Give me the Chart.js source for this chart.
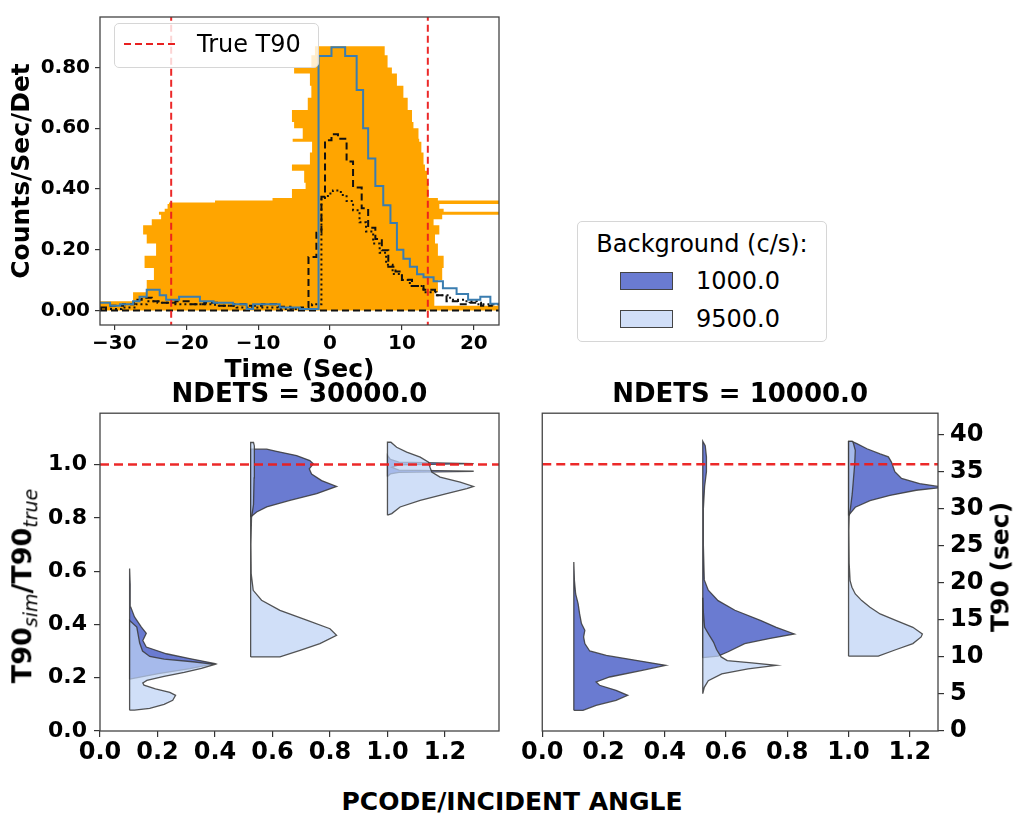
<!DOCTYPE html>
<html>
<head>
<meta charset="utf-8">
<script src="https://cdn.jsdelivr.net/npm/chart.js@4.4.1/dist/chart.umd.min.js"></script>
<style>
  body { margin: 0; background: #fff; font-family: "DejaVu Sans", sans-serif; color: #000; }
  #page { position: relative; width: 1015px; height: 819px; overflow: hidden; }
  .box { position: absolute; }
  .rot { position: absolute; transform: translate(-50%, -50%) rotate(-90deg); font-weight: bold; font-size: 25px; white-space: nowrap; }
  .rot sub { font-style: italic; font-weight: normal; font-size: 19px; }
  .xlab { position: absolute; transform: translate(-50%, -50%); font-weight: bold; font-size: 25px; white-space: nowrap; }
  .legend { position: absolute; border: 1px solid #d6d6d6; border-radius: 5px; background: rgba(255,255,255,0.8); }
  .legend .t { position: absolute; font-size: 24px; line-height: 30px; white-space: nowrap; }
</style>
</head>
<body>
<div id="page">
  <div class="box" style="left:0;top:0;width:510px;height:385px"><canvas id="lightCurve"></canvas></div>
  <div class="box" style="left:0;top:380px;width:520px;height:395px"><canvas id="violin30k"></canvas></div>
  <div class="box" style="left:520px;top:380px;width:495px;height:395px"><canvas id="violin10k"></canvas></div>

  <div class="rot" style="left:24px;top:586px;font-size:27px">T90<sub>sim</sub>/T90<sub>true</sub></div>
  <div class="rot" style="left:1000px;top:567px">T90 (sec)</div>
  <div class="xlab" style="left:512px;top:801px">PCODE/INCIDENT ANGLE</div>

  <div class="legend" style="left:114px;top:23px;width:203px;height:43px">
    <svg style="position:absolute;left:8px;top:18px" width="54" height="4">
      <line x1="1" y1="2" x2="53" y2="2" stroke="#e82020" stroke-width="2" stroke-dasharray="7,4"/>
    </svg>
    <div class="t" id="t90Label" style="left:82px;top:5px"></div>
  </div>
  <div class="legend" id="bgLegend" style="left:577px;top:221px;width:248px;height:119px;background:#fff"></div>
</div>

<script>
// ---------- top panel: light curve ----------
const timeTicks = [-30, -20, -10, 0, 10, 20];
const rateTicks = [0, 0.2, 0.4, 0.6, 0.8];
const t90Bounds = [-22.1, 13.6];

// orange band: level edges and the left/right end of the band on each level
const orangeLevels = [0, 0.015, 0.03, 0.06, 0.10, 0.14, 0.18, 0.22, 0.25, 0.28, 0.30, 0.315, 0.325, 0.335, 0.35, 0.355, 0.362, 0.37,
  0.40, 0.42, 0.46, 0.48, 0.52, 0.555, 0.565, 0.60, 0.62, 0.66, 0.70, 0.74, 0.78, 0.80, 0.84, 0.87];
const orangeLeft = [-32, -32, -27.4, -25.5, -24.5, -25.8, -24.2, -25.5, -26, -24.8, -23.5, -23.8, -23, -22.6, -22.4, -16, -8,
  -5.3, -3.4, -3.6, -5.3, -2.8, -2.5, -5.2, -3.8, -5.0, -5.3, -3.1, -2.6, -2.8, -5.0, -2.6, -2.1];
const orangeRight = [23.5, 14.5, 14.5, 15, 15.6, 15.8, 15, 14.6, 15.2, 14.4, 15.6, 23.5, 15.8, 15.2, 23.5, 23.5, 15,
  13.7, 13.7, 13.5, 13.2, 13, 12.7, 12.4, 12.3, 11.6, 11.4, 10.8, 10.2, 9.3, 8.6, 8.0, 7.6];

const blueT = [-32, -30.6, -29.2, -27.4, -26.5, -25.5, -23.7, -22.8, -21.0, -18.1, -16.2, -13.5, -11.6, -10.7, -7.0, -4.2,
  -1.6, 0.2, 2.1, 3.7, 4.6, 5.3, 6.3, 7.4, 8.4, 9.3, 10.2, 11.1, 12.1, 13.0, 14.4, 15.7, 17.6, 19.2, 20.9, 22.3, 23.5];
const blueRate = [0.025, 0.015, 0.02, 0.03, 0.045, 0.068, 0.05, 0.035, 0.045, 0.03, 0.025, 0.02, 0.005, 0.02, 0.01, 0.005,
  0.838, 0.866, 0.838, 0.726, 0.60, 0.50, 0.41, 0.346, 0.288, 0.20, 0.17, 0.144, 0.119, 0.109, 0.096, 0.073, 0.054, 0.035, 0.045, 0.022, 0.022];

const dashT = [-32, -30.5, -28.8, -27.3, -26.2, -24.8, -23.2, -21.5, -19.5, -17.5, -15.5, -13.5, -11.5, -9.5, -7.5, -5.5, -4.0,
  -3.0, -1.9, -1.2, -0.7, 0.2, 1.1, 2.3, 3.2, 4.4, 5.3, 6.3, 7.2, 8.1, 9.1, 10.0, 11.4, 13.0, 14.6, 16.2, 17.8, 19.4, 21.0, 22.5, 23.5];
const dashRate = [0.01, 0.015, 0.02, 0.035, 0.042, 0.03, 0.025, 0.03, 0.02, 0.025, 0.015, 0.02, 0.015, 0.02, 0.012, 0.006, 0.01,
  0.176, 0.256, 0.374, 0.56, 0.58, 0.565, 0.49, 0.405, 0.336, 0.272, 0.235, 0.198, 0.144, 0.128, 0.101, 0.08, 0.068, 0.05, 0.03, 0.02, 0.025, 0.015, 0.02, 0.02];

const dotT = [-32, -29, -27, -25.5, -24, -22, -19, -16, -13, -10, -7, -4, -2.5, -1.2, -0.3, 0.4, 1.5, 2.3, 3.2, 4.1, 5.0, 6.0,
  6.9, 7.8, 8.7, 10.0, 11.1, 13.0, 14.8, 16.7, 18.5, 20.4, 22.3, 23.5];
const dotRate = [0.005, 0.01, 0.02, 0.03, 0.025, 0.02, 0.02, 0.015, 0.01, 0.01, 0.005, 0.005, 0.02, 0.37, 0.385, 0.395, 0.38, 0.36,
  0.33, 0.29, 0.26, 0.22, 0.19, 0.15, 0.12, 0.10, 0.08, 0.06, 0.05, 0.035, 0.03, 0.02, 0.02, 0.02];

// ---------- bottom panels: split violins ----------
const angleTicks = [0, 0.2, 0.4, 0.6, 0.8, 1.0, 1.2];
const ratioTicks = [0, 0.2, 0.4, 0.6, 0.8, 1.0];
const secTicks = [0, 5, 10, 15, 20, 25, 30, 35, 40];
const pcodes = [0.103, 0.524, 1.0];
const bgLevels = ['1000.0', '9500.0'];
const trueRatio = 1.0;
const trueT90 = 36.0;

// profiles: [y, half width] from bottom to top
const n30Dark = [
  [[0.195, 0], [0.205, 0.05], [0.215, 0.10], [0.234, 0.21], [0.253, 0.296], [0.272, 0.209], [0.29, 0.128], [0.315, 0.058], [0.34, 0.046],
   [0.367, 0.058], [0.39, 0.041], [0.428, 0.017], [0.465, 0.004], [0.55, 0.002], [0.61, 0]],
  [[0.803, 0], [0.822, 0.021], [0.841, 0.056], [0.866, 0.137], [0.891, 0.23], [0.918, 0.299], [0.94, 0.247], [0.965, 0.212], [0.984, 0.204],
   [1.003, 0.218], [1.015, 0.206], [1.034, 0.16], [1.05, 0.09], [1.058, 0.056]],
  [[0.955, 0], [0.965, 0.01], [0.971, 0.04], [0.975, 0.30], [0.979, 0.04], [0.99, 0.015], [0.999, 0.04], [1.004, 0.30], [1.009, 0.04], [1.02, 0.01], [1.035, 0]]
];
const n30Light = [
  [[0.078, 0.017], [0.085, 0.07], [0.10, 0.12], [0.115, 0.15], [0.134, 0.16], [0.145, 0.14], [0.158, 0.09], [0.172, 0.05], [0.18, 0.046],
   [0.19, 0.06], [0.205, 0.12], [0.22, 0.19], [0.235, 0.25], [0.25, 0.296], [0.26, 0.22], [0.27, 0.12], [0.28, 0.07], [0.30, 0.045],
   [0.33, 0.035], [0.36, 0.03], [0.39, 0.025], [0.415, 0]],
  [[0.278, 0.102], [0.303, 0.172], [0.328, 0.241], [0.359, 0.299], [0.384, 0.276], [0.416, 0.195], [0.453, 0.102], [0.491, 0.038],
   [0.528, 0.009], [0.59, 0.002], [0.7, 0.001], [0.80, 0.003], [0.85, 0.01], [0.95, 0.012], [1.03, 0.014], [1.07, 0.012], [1.083, 0.01]],
  [[0.81, 0], [0.816, 0.015], [0.841, 0.044], [0.866, 0.114], [0.891, 0.206], [0.91, 0.276], [0.918, 0.299], [0.934, 0.253], [0.953, 0.183],
   [0.972, 0.154], [0.99, 0.148], [1.009, 0.143], [1.028, 0.114], [1.047, 0.067], [1.065, 0.032], [1.084, 0.012]]
];
const n10Dark = [
  [[2.79, 0.03], [3.47, 0.073], [4.14, 0.138], [4.82, 0.176], [5.49, 0.138], [6.17, 0.084], [6.62, 0.073], [7.29, 0.117], [8.19, 0.224],
   [8.87, 0.30], [9.54, 0.203], [10.2, 0.106], [10.8, 0.052], [11.8, 0.036], [12.7, 0.032], [13.6, 0.036], [14.5, 0.025], [15.8, 0.019],
   [17.2, 0.014], [18.5, 0.006], [20.3, 0.002], [22.8, 0]],
  [[9.9, 0], [10.1, 0.05], [10.7, 0.083], [11.8, 0.137], [12.5, 0.22], [13.1, 0.299], [14.0, 0.24], [14.9, 0.19], [16.3, 0.105],
   [17.6, 0.05], [19.0, 0.018], [20.4, 0.005], [25, 0.002], [30, 0.002], [33, 0.006], [35, 0.012], [37, 0.012], [38.5, 0.008], [39.1, 0]],
  [[29.1, 0], [30.2, 0.022], [31.1, 0.07], [31.8, 0.135], [32.5, 0.221], [32.9, 0.31], [33.4, 0.232], [34.1, 0.173], [35.0, 0.151],
   [35.6, 0.146], [36.3, 0.14], [37.0, 0.13], [37.4, 0.103], [38.1, 0.06], [38.8, 0.027], [39.1, 0.011]]
];
const n10Light = [
  [],
  [[5.04, 0], [5.9, 0.005], [6.8, 0.018], [7.7, 0.062], [8.4, 0.148], [8.87, 0.24], [9.2, 0.16], [9.5, 0.08], [10, 0.06], [11, 0.045],
   [12, 0.035], [13, 0.02], [14, 0.006], [16, 0.002], [18, 0]],
  [[10.1, 0.097], [11.0, 0.156], [11.8, 0.21], [12.7, 0.237], [13.1, 0.241], [14.0, 0.21], [14.9, 0.156], [15.8, 0.103], [16.7, 0.07],
   [17.6, 0.043], [18.5, 0.022], [19.4, 0.011], [20.3, 0.005], [22.6, 0.002], [27, 0.001], [29, 0.002], [30, 0.006], [32, 0.012],
   [34, 0.016], [36, 0.02], [37.9, 0.022], [38.8, 0.016], [39.1, 0.013]]
];

const FONT = "'DejaVu Sans', sans-serif";
const DARK = '#6a7bd1';
const LIGHT = 'rgba(190, 210, 245, 0.72)';
const EDGE = 'rgba(55, 55, 55, 0.85)';
const RED = 'rgba(235, 30, 30, 0.95)';

Chart.defaults.font.family = FONT;
Chart.defaults.color = '#000';

// box around the plot area, like matplotlib spines
const frame = {
  id: 'frame',
  afterDatasetsDraw(chart) {
    const { ctx, chartArea: a } = chart;
    ctx.save();
    ctx.strokeStyle = '#444';
    ctx.lineWidth = 1.3;
    ctx.strokeRect(a.left, a.top, a.right - a.left, a.bottom - a.top);
    ctx.restore();
  }
};

function fixedTicks(values) {
  return axis => { axis.ticks = values.map(v => ({ value: v })); };
}

function axis(min, max, values, size, tickLength, pad, fmt) {
  return {
    type: 'linear', min, max,
    afterBuildTicks: fixedTicks(values),
    grid: { display: true, drawOnChartArea: false, drawTicks: true, tickLength, color: '#333', lineWidth: 1.2 },
    border: { display: false },
    ticks: { autoSkip: false, maxRotation: 0, padding: pad, color: '#000', font: { size, weight: 'bold' }, callback: fmt }
  };
}

function pts(xs, ys) {
  return xs.map((x, i) => ({ x, y: ys[i] }));
}

function stepLine(xs, ys, color, dash, order) {
  return { data: pts(xs, ys), showLine: true, stepped: true, borderColor: color, borderWidth: 2, borderDash: dash, fill: false, order };
}

function orangeShape() {
  const out = [];
  const n = orangeLeft.length;
  for (let i = 0; i < n; i++) {
    out.push({ x: orangeLeft[i], y: orangeLevels[i] }, { x: orangeLeft[i], y: orangeLevels[i + 1] });
  }
  for (let i = n - 1; i >= 0; i--) {
    out.push({ x: orangeRight[i], y: orangeLevels[i + 1] }, { x: orangeRight[i], y: orangeLevels[i] });
  }
  out.push(out[0]);
  return out;
}

function violin(center, profile, color, order) {
  const first = profile[0][0];
  const last = profile[profile.length - 1][0];
  const shape = [{ x: center, y: first }];
  profile.forEach(([y, w]) => shape.push({ x: center + w, y }));
  shape.push({ x: center, y: last }, { x: center, y: first });
  return { data: shape, showLine: true, fill: 'shape', backgroundColor: color, borderColor: EDGE, borderWidth: 1.3, order };
}

const minus = v => (v < 0 ? '\u2212' + Math.abs(v) : String(v));

// ---------- top chart ----------
const lcData = [
  stepLine(blueT, blueRate, '#3a7db0', [], 1),
  stepLine(dashT, dashRate, '#111', [7, 4], 2),
  stepLine(dotT, dotRate, '#111', [2, 3], 3),
  { data: pts([-32, 23.5], [0, 0]), showLine: true, borderColor: '#111', borderWidth: 2, borderDash: [7, 4], order: 4 },
  ...t90Bounds.map(t => ({ data: pts([t, t], [-0.06, 1]), showLine: true, borderColor: RED, borderWidth: 2, borderDash: [7, 4], order: 0 })),
  { data: orangeShape(), showLine: true, fill: 'shape', backgroundColor: '#ffa500', borderWidth: 0, order: 10 }
];

new Chart(document.getElementById('lightCurve'), {
  type: 'scatter',
  data: { datasets: lcData },
  options: {
    responsive: true, maintainAspectRatio: false, animation: false,
    layout: { padding: { top: 8, right: 11, left: 0, bottom: 0 } },
    elements: { point: { radius: 0 }, line: { tension: 0 } },
    plugins: { legend: { display: false }, tooltip: { enabled: false } },
    scales: {
      x: Object.assign(axis(-32, 23.5, timeTicks, 20, 5, 2, minus), {
        afterFit: s => { s.height = 60; },
        title: { display: true, text: 'Time (Sec)', font: { size: 25, weight: 'bold' }, padding: { top: 0, bottom: 0 } }
      }),
      y: Object.assign(axis(-0.048, 0.966, rateTicks, 20, 5, 5, v => v.toFixed(2)), {
        afterFit: s => { s.width = 100; },
        title: { display: true, text: 'Counts/Sec/Det', font: { size: 25, weight: 'bold' }, padding: { top: 7, bottom: 0 } }
      })
    }
  },
  plugins: [frame]
});

// ---------- violin charts ----------
function violinChart(id, title, dark, light, xMax, yMin, yMax, yPos, yTickVals, yFmt, yWidth, redY, pad) {
  const sets = [{ data: pts([0, xMax], [redY, redY]), showLine: true, borderColor: RED, borderWidth: 2.5, borderDash: [9, 5], order: 0 }];
  pcodes.forEach((c, i) => {
    if (light[i].length) sets.push(violin(c, light[i], LIGHT, 1));
    if (dark[i].length) sets.push(violin(c, dark[i], DARK, 2));
  });
  const yAxis = Object.assign(axis(yMin, yMax, yTickVals, yPos === 'left' ? 22 : 24, 6, yPos === 'left' ? 7 : 6, yFmt), {
    position: yPos,
    afterFit: s => { s.width = yWidth; }
  });
  new Chart(document.getElementById(id), {
    type: 'scatter',
    data: { datasets: sets },
    options: {
      responsive: true, maintainAspectRatio: false, animation: false,
      layout: { padding: pad },
      elements: { point: { radius: 0 }, line: { tension: 0 } },
      plugins: {
        legend: { display: false }, tooltip: { enabled: false },
        title: { display: true, text: title, fullSize: false, color: '#000', font: { size: 26, weight: 'bold' }, padding: { top: 0, bottom: 2 } }
      },
      scales: {
        x: Object.assign(axis(0, xMax, angleTicks, 24, 6, 1, v => v.toFixed(1)), { afterFit: s => { s.height = 44; } }),
        y: yAxis
      }
    },
    plugins: [frame]
  });
}

violinChart('violin30k', 'NDETS = 30000.0', n30Dark, n30Light, 1.388, 0, 1.193, 'left', ratioTicks, v => v.toFixed(1), 100,
  trueRatio, { top: 0, right: 21, left: 0, bottom: 0 });
violinChart('violin10k', 'NDETS = 10000.0', n10Dark, n10Light, 1.292, 0, 42.9, 'right', secTicks, v => String(v), 77,
  trueT90, { top: 0, right: 0, left: 19, bottom: 0 });

// ---------- legends ----------
document.getElementById('t90Label').textContent = 'True T90';
const bgBox = document.getElementById('bgLegend');
bgBox.innerHTML = '<div class="t" style="left:0;width:100%;text-align:center;top:7px">Background (c/s):</div>';
[DARK, '#d1dff8'].forEach((c, i) => {
  const top = 50 + i * 38;
  bgBox.insertAdjacentHTML('beforeend',
    `<div style="position:absolute;left:42px;top:${top}px;width:51px;height:16px;background:${c};border:1px solid #444"></div>` +
    `<div class="t" style="left:118px;top:${top - 6}px">${bgLevels[i]}</div>`);
});
</script>
</body>
</html>
